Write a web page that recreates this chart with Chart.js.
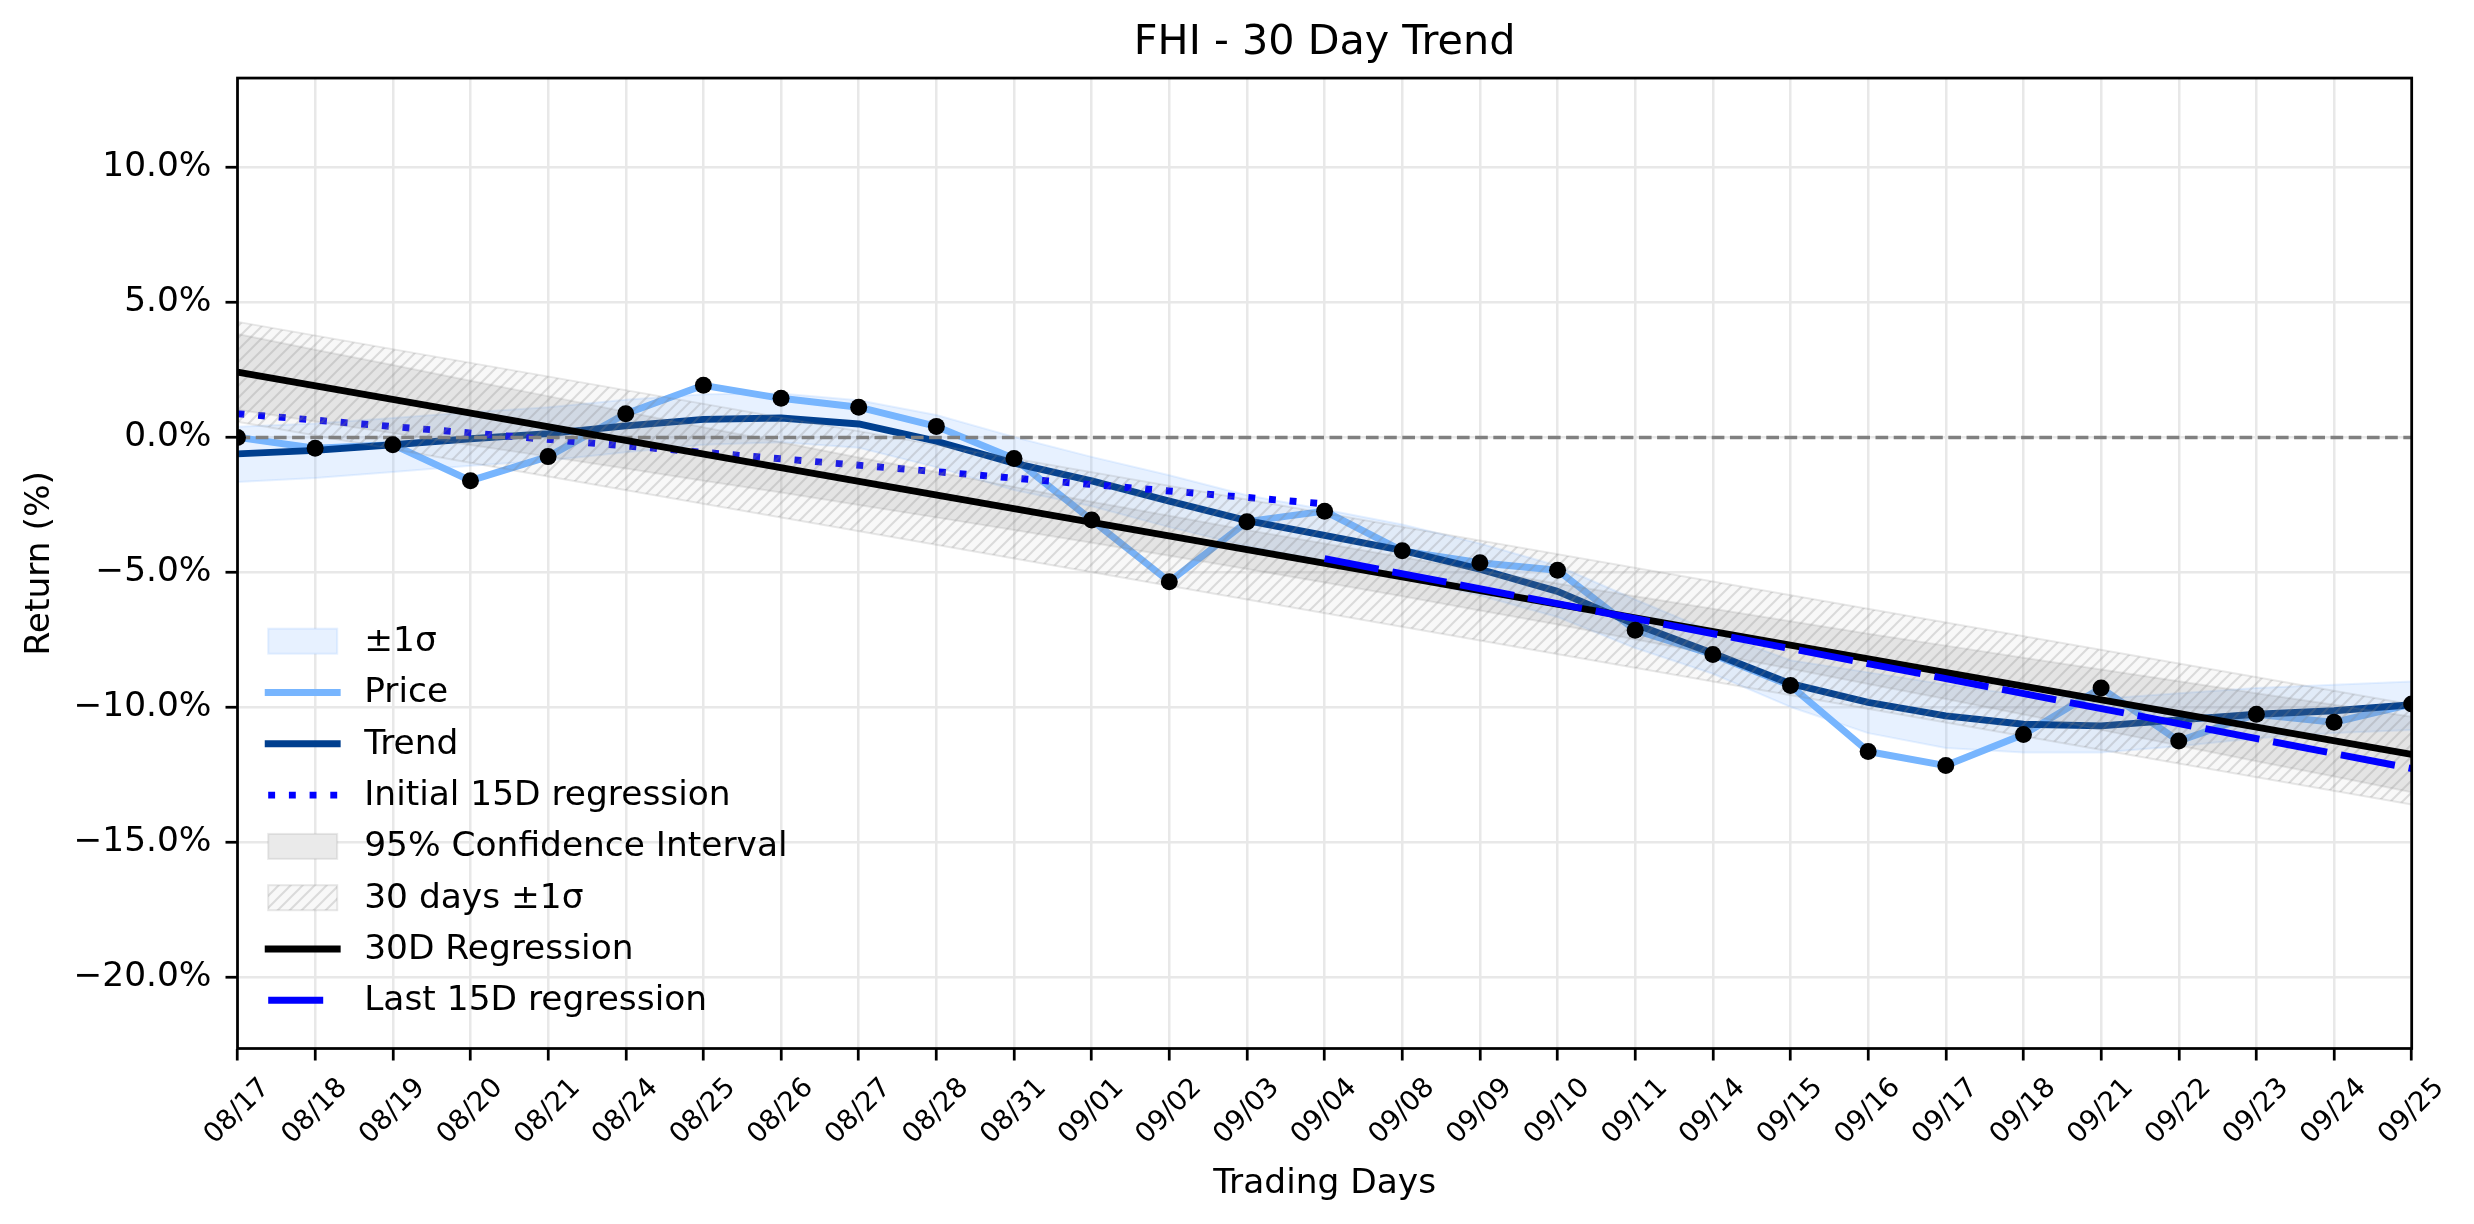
<!DOCTYPE html>
<html>
<head>
<meta charset="utf-8">
<title>FHI - 30 Day Trend</title>
<script src="https://cdn.jsdelivr.net/npm/chart.js@4.4.1/dist/chart.umd.min.js"></script>
<style>
  html, body { margin: 0; padding: 0; background: #fff; }
  #chart { display: block; }
</style>
</head>
<body>
<canvas id="chart" width="2474" height="1224"></canvas>
<script>
// Chart data (values in %)

const dayLabels = ['08/17', '08/18', '08/19', '08/20', '08/21', '08/24', '08/25', '08/26', '08/27', '08/28',
  '08/31', '09/01', '09/02', '09/03', '09/04', '09/08', '09/09', '09/10', '09/11', '09/14',
  '09/15', '09/16', '09/17', '09/18', '09/21', '09/22', '09/23', '09/24', '09/25'];

const priceReturns = [0.00, -0.40, -0.27, -1.60, -0.71, 0.88, 1.93, 1.45, 1.12, 0.41,
  -0.78, -3.06, -5.34, -3.12, -2.73, -4.20, -4.64, -4.92, -7.14, -8.04,
  -9.19, -11.63, -12.15, -11.00, -9.28, -11.24, -10.25, -10.55, -9.87];

const trendReturns = [-0.61, -0.48, -0.27, -0.05, 0.14, 0.43, 0.67, 0.72, 0.50, -0.14,
  -0.95, -1.61, -2.36, -3.08, -3.63, -4.18, -4.88, -5.70, -6.92, -7.99,
  -9.12, -9.81, -10.31, -10.62, -10.68, -10.46, -10.25, -10.12, -9.90];

const sigmaUpper = [0.40, 0.52, 0.72, 0.93, 1.12, 1.40, 1.60, 1.63, 1.38, 0.83,
  0.02, -0.72, -1.40, -2.14, -2.67, -3.22, -3.93, -4.75, -6.00, -7.20,
  -8.25, -8.70, -9.15, -9.55, -9.68, -9.47, -9.28, -9.16, -9.04];

const sigmaLower = [-1.65, -1.50, -1.28, -1.05, -0.85, -0.55, -0.27, -0.18, -0.38, -1.10,
  -1.95, -2.55, -3.32, -4.02, -4.58, -5.14, -5.85, -6.65, -7.80, -8.75,
  -9.98, -10.95, -11.50, -11.67, -11.67, -11.44, -11.14, -10.95, -10.83];

const ciUpper = [3.83, 3.25, 2.68, 2.10, 1.53, 0.95, 0.38, -0.18, -0.74, -1.28,
  -1.83, -2.38, -2.90, -3.43, -3.93, -4.44, -4.93, -5.41, -5.88, -6.34,
  -6.81, -7.27, -7.71, -8.16, -8.59, -9.03, -9.47, -9.90, -10.34];

const ciLower = [1.03, 0.59, 0.16, -0.28, -0.71, -1.15, -1.60, -2.04, -2.50, -2.96,
  -3.43, -3.90, -4.38, -4.87, -5.37, -5.88, -6.41, -6.93, -7.48, -8.02,
  -8.57, -9.13, -9.69, -10.26, -10.83, -11.41, -11.99, -12.56, -13.14];

// straight lines: value at first and last day of each
const reg30Ends = [2.42, -11.74];
const band30UpperEnds = [4.28, -9.89];
const band30LowerEnds = [0.58, -13.59];
const initial15Ends = [0.88, -2.46];   // 08/17 -> 09/04
const last15Ends = [-4.49, -12.26];    // 09/04 -> 09/25
const zeroEnds = [0, 0];

const yTickValues = [-20, -15, -10, -5, 0, 5, 10];

// helper: two point line between two day labels
function ends(values, fromDay, toDay) {
  return [{ x: fromDay, y: values[0] }, { x: toDay, y: values[1] }];
}

// hatch pattern for the 30 day band
function makeHatch() {
  const size = 12;
  const c = document.createElement('canvas');
  c.width = size;
  c.height = size;
  const g = c.getContext('2d');
  g.fillStyle = 'rgba(128,128,128,0.06)';
  g.fillRect(0, 0, size, size);
  g.strokeStyle = 'rgba(128,128,128,0.25)';
  g.lineWidth = 2;
  g.beginPath();
  g.moveTo(-2, size + 2); g.lineTo(size + 2, -2);
  g.moveTo(-2, 2); g.lineTo(2, -2);
  g.moveTo(size - 2, size + 2); g.lineTo(size + 2, size - 2);
  g.stroke();
  return g.createPattern(c, 'repeat');
}

const hatch = makeHatch();
const first = dayLabels[0];
const last = dayLabels[dayLabels.length - 1];
const mid = dayLabels[14];

const lineBase = { pointRadius: 0, tension: 0, clip: 0, borderJoinStyle: 'round' };

const datasets = [
  { ...lineBase, label: 'points', data: priceReturns, showLine: false,
    pointRadius: 8.5, pointBackgroundColor: '#000', pointBorderWidth: 0, order: 0 },
  { ...lineBase, label: 'Last 15D regression', data: ends(last15Ends, mid, last),
    borderColor: '#0000ff', borderWidth: 6.9, borderDash: [55, 14], order: 1,
    legendRank: 7, legendKind: 'line' },
  { ...lineBase, label: '30D Regression', data: ends(reg30Ends, first, last),
    borderColor: '#000', borderWidth: 6.9, order: 2, legendRank: 6, legendKind: 'line' },
  { ...lineBase, label: 'zero', data: ends(zeroEnds, first, last),
    borderColor: '#808080', borderWidth: 3.4, borderDash: [12.7, 5.5], order: 3 },
  { ...lineBase, label: '30 days ±1σ', data: ends(band30UpperEnds, first, last),
    borderColor: 'rgba(128,128,128,0.18)', borderWidth: 2, backgroundColor: hatch,
    fill: 5, order: 4, legendRank: 5, legendKind: 'patch' },
  { ...lineBase, label: 'band30 lower', data: ends(band30LowerEnds, first, last),
    borderColor: 'rgba(128,128,128,0.18)', borderWidth: 2, order: 5 },
  { ...lineBase, label: '95% Confidence Interval', data: ciUpper,
    borderColor: 'rgba(128,128,128,0.17)', borderWidth: 2, backgroundColor: 'rgba(128,128,128,0.17)',
    fill: 7, order: 6, legendRank: 4, legendKind: 'patch' },
  { ...lineBase, label: 'ci lower', data: ciLower,
    borderColor: 'rgba(128,128,128,0.17)', borderWidth: 2, order: 7 },
  { ...lineBase, label: 'Initial 15D regression', data: ends(initial15Ends, first, mid),
    borderColor: '#0000ff', borderWidth: 6.9, borderDash: [6.9, 13.8], order: 8,
    legendRank: 3, legendKind: 'line' },
  { ...lineBase, label: 'Trend', data: trendReturns,
    borderColor: '#003f8f', borderWidth: 6.9, order: 9, legendRank: 2, legendKind: 'line' },
  { ...lineBase, label: 'Price', data: priceReturns,
    borderColor: '#77b5fe', borderWidth: 6.9, order: 10, legendRank: 1, legendKind: 'line' },
  { ...lineBase, label: '±1σ', data: sigmaUpper,
    borderColor: 'rgba(120,180,255,0.18)', borderWidth: 2, backgroundColor: 'rgba(120,180,255,0.18)',
    fill: 12, order: 11, legendRank: 0, legendKind: 'patch' },
  { ...lineBase, label: 'sigma lower', data: sigmaLower,
    borderColor: 'rgba(120,180,255,0.18)', borderWidth: 2, order: 12 }
];

// frame on all four sides, drawn over the data like matplotlib spines
const framePlugin = {
  id: 'frame',
  afterDatasetsDraw(chart) {
    const { ctx, chartArea: a } = chart;
    ctx.save();
    ctx.strokeStyle = '#000';
    ctx.lineWidth = 2.75;
    ctx.strokeRect(a.left, a.top, a.right - a.left, a.bottom - a.top);
    ctx.restore();
  }
};

// legend in the lower left corner of the plot, no frame
const legendPlugin = {
  id: 'insideLegend',
  afterDraw(chart) {
    const { ctx, chartArea: a } = chart;
    const items = chart.data.datasets
      .filter(d => d.legendRank !== undefined)
      .sort((p, q) => p.legendRank - q.legendRank);
    const x0 = a.left + 30.7;
    const x1 = x0 + 69;
    const pitch = 51.3;
    const top = a.bottom - 407.3;
    ctx.save();
    ctx.font = '34.4px "DejaVu Sans"';
    ctx.textBaseline = 'middle';
    ctx.textAlign = 'left';
    items.forEach((d, i) => {
      const cy = top + i * pitch;
      if (d.legendKind === 'patch') {
        ctx.fillStyle = '#fff';
        ctx.fillRect(x0, cy - 12.5, x1 - x0, 25);
        ctx.fillStyle = d.backgroundColor;
        ctx.fillRect(x0, cy - 12.5, x1 - x0, 25);
        ctx.strokeStyle = d.borderColor;
        ctx.lineWidth = 2;
        ctx.setLineDash([]);
        ctx.strokeRect(x0, cy - 12.5, x1 - x0, 25);
      } else {
        ctx.strokeStyle = d.borderColor;
        ctx.lineWidth = d.borderWidth;
        ctx.setLineDash(d.borderDash || []);
        ctx.lineCap = d.borderDash ? 'butt' : 'square';
        ctx.beginPath();
        ctx.moveTo(x0, cy);
        ctx.lineTo(x1, cy);
        ctx.stroke();
      }
      ctx.setLineDash([]);
      ctx.fillStyle = '#000';
      ctx.fillText(d.label, x0 + 96, cy + 1);
    });
    ctx.restore();
  }
};

function fmtPct(v) {
  const s = Math.abs(v).toFixed(1) + '%';
  return v < 0 ? '\u2212' + s : s;
}

Chart.defaults.font.family = '"DejaVu Sans", sans-serif';
Chart.defaults.color = '#000';

new Chart(document.getElementById('chart').getContext('2d'), {
  type: 'line',
  data: { labels: dayLabels, datasets },
  plugins: [framePlugin, legendPlugin],
  options: {
    responsive: false,
    devicePixelRatio: 1,
    animation: false,
    events: [],
    layout: { padding: { left: 0, right: 62.3, top: 0, bottom: 0 } },
    plugins: {
      legend: { display: false },
      tooltip: { enabled: false },
      title: {
        display: true,
        text: 'FHI - 30 Day Trend',
        fullSize: false,
        color: '#000',
        font: { size: 41.3, weight: 'normal' },
        padding: { top: 18, bottom: 10.5 }
      }
    },
    scales: {
      x: {
        type: 'category',
        offset: false,
        afterFit(scale) { scale.height = 175.5; },
        grid: { color: '#e8e8e8', lineWidth: 2.5, tickColor: '#000', tickWidth: 2.75, tickLength: 12 },
        border: { display: false },
        ticks: {
          autoSkip: false, maxRotation: 45, minRotation: 45,
          font: { size: 27.5 }, color: '#000', padding: 11.5, labelOffset: 28
        },
        title: {
          display: true, text: 'Trading Days', color: '#000',
          font: { size: 34.4 }, padding: { top: 0, bottom: 19 }
        }
      },
      y: {
        type: 'linear',
        min: -22.63,
        max: 13.31,
        afterFit(scale) { scale.width = 237.5; },
        afterBuildTicks(scale) { scale.ticks = yTickValues.map(v => ({ value: v })); },
        grid: { color: '#e8e8e8', lineWidth: 2.5, tickColor: '#000', tickWidth: 2.75, tickLength: 12 },
        border: { display: false },
        ticks: {
          includeBounds: false,
          font: { size: 34.4 }, color: '#000', padding: 14,
          callback: v => fmtPct(v)
        },
        title: {
          display: true, text: 'Return (%)', color: '#000',
          font: { size: 34.4 }, padding: { top: 19.4, bottom: 0 }
        }
      }
    }
  }
});
</script>
</body>
</html>
